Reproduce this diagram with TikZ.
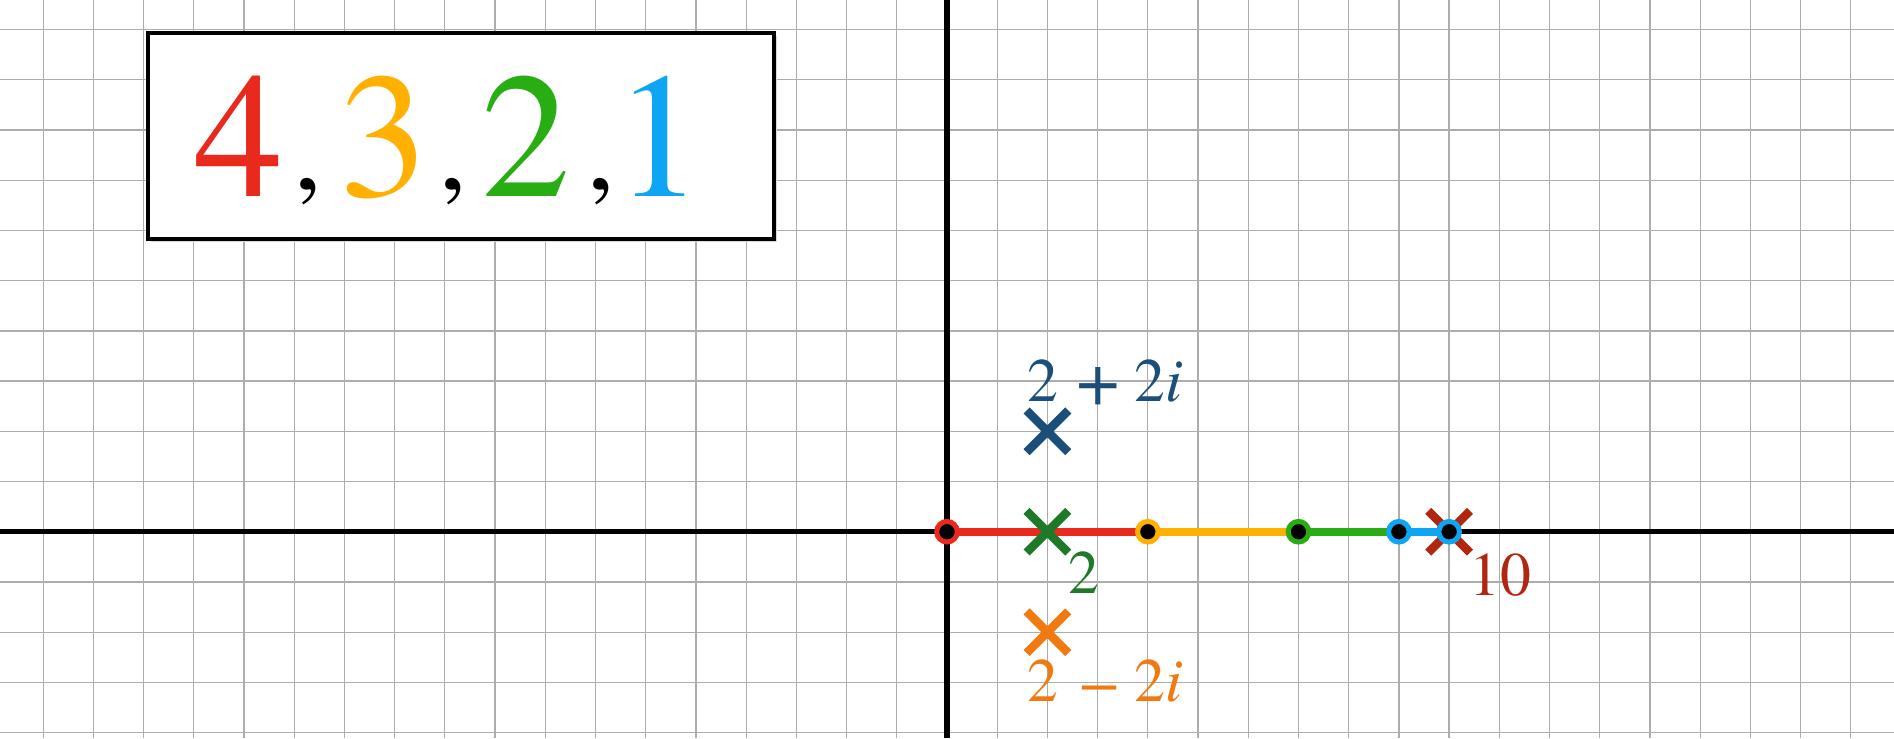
\documentclass[tikz,border=0pt]{standalone}
\usepackage{graphicx}
\usepackage{fontspec}
\setmainfont{texgyretermes}[Extension=.otf, UprightFont=*-regular, ItalicFont=*-italic, BoldFont=*-bold]
\usetikzlibrary{shapes.misc}
\definecolor{cRed}{HTML}{E8291C}
\definecolor{cOrange}{HTML}{FFB000}
\definecolor{cGreen}{HTML}{28AD12}
\definecolor{cBlue}{HTML}{0EA5F5}
\definecolor{xBlue}{HTML}{1B4F7A}
\definecolor{xGreen}{HTML}{1E7A28}
\definecolor{xOrange}{HTML}{F07A10}
\definecolor{xRed}{HTML}{B0260F}
\definecolor{gridgray}{HTML}{ADADAD}
\tikzset{
  gridline/.style={gridgray, line width=0.025cm},
  axisline/.style={black, line width=0.1cm},
  seg/.style={line width=0.15cm},
  dotnode/.style={circle, draw=#1, fill=black, line width=0.1cm, inner sep=0pt, minimum size=0.41cm},
  xmark/.style={cross out, draw=#1, line width=0.17cm, inner sep=0pt, minimum size=0.66cm},
  biglabel/.style={font=\fontsize{101pt}{101pt}\selectfont, inner sep=0pt, anchor=base},
  commalabel/.style={font=\fontsize{62pt}{62pt}\selectfont, inner sep=0pt, anchor=base},
  ptlabel/.style={font=\fontsize{35pt}{35pt}\selectfont, inner sep=0pt, anchor=base, text=#1},
}
\newcommand{\bigplus}{\raisebox{-0.06em}{\scalebox{1.25}{+}}}
\newcommand{\bigminus}{\raisebox{-0.02em}{\scalebox{1.15}[1.0]{\char"2212}}}
\begin{document}
\begin{tikzpicture}[x=1cm,y=1cm]
\useasboundingbox (-18.86,-4.11) rectangle (18.86,10.59);
\fill[white] (-18.86,-4.11) rectangle (18.86,10.59);
% grid
\foreach \i in {-18,...,18} \draw[gridline] (\i,-4.11) -- (\i,10.59);
\foreach \j in {-4,...,10} \draw[gridline] (-18.86,\j) -- (18.86,\j);
% axes
\draw[axisline] (-18.86,0) -- (18.86,0);
\draw[axisline] (0,-4.11) -- (0,10.59);
% title box
\fill[black!15] (-15.86,5.77) rectangle (-3.38,9.87);
\draw[black, line width=0.08cm, fill=white] (-15.92,5.83) rectangle (-3.44,9.93);
\node[biglabel, text=cRed] (d4) at (-14.10,6.67) {4};
\node[commalabel] (k1) at (-12.72,6.81) {,};
\node[biglabel, text=cOrange] (d3) at (-11.22,6.67) {3};
\node[commalabel] (k2) at (-9.84,6.81) {,};
\node[biglabel, text=cGreen] (d2) at (-8.39,6.67) {2};
\node[commalabel] (k3) at (-6.89,6.81) {,};
\node[biglabel, text=cBlue] (d1) at (-5.73,6.67) {1};
% points on the real axis
\coordinate (c0) at (0,0);
\coordinate (c4) at (4,0);
\coordinate (c7) at (7,0);
\coordinate (c9) at (9,0);
\coordinate (c10) at (10,0);
\draw[seg, cRed] (c0) -- (c4);
\draw[seg, cOrange] (c4) -- (c7);
\draw[seg, cGreen] (c7) -- (c9);
\draw[seg, cBlue] (c9) -- (c10);
% crosses
\node[xmark=xRed] (x10) at (10,0) {};
\node[xmark=xBlue] (xtop) at (2,2) {};
\node[xmark=xOrange] (xbot) at (2,-2) {};
% dots
\node[dotnode=cRed] (p0) at (c0) {};
\node[dotnode=cOrange] (p4) at (c4) {};
\node[dotnode=cGreen] (p7) at (c7) {};
\node[dotnode=cBlue] (p9) at (c9) {};
\node[dotnode=cBlue] (p10) at (c10) {};
\node[xmark=xGreen] (x2) at (2,0) {};
% labels
\node[ptlabel=xBlue] (ltop) at (3.15,2.59) {2\hspace{0.30em}\bigplus\hspace{0.23em}2\textit{i}};
\node[ptlabel=xOrange] (lbot) at (3.15,-3.39) {2\hspace{0.33em}\bigminus\hspace{0.25em}2\textit{i}};
\node[ptlabel=xGreen] (l2) at (2.73,-1.23) {2};
\node[ptlabel=xRed] (l10) at (11.03,-1.26) {10};
\end{tikzpicture}
\end{document}
